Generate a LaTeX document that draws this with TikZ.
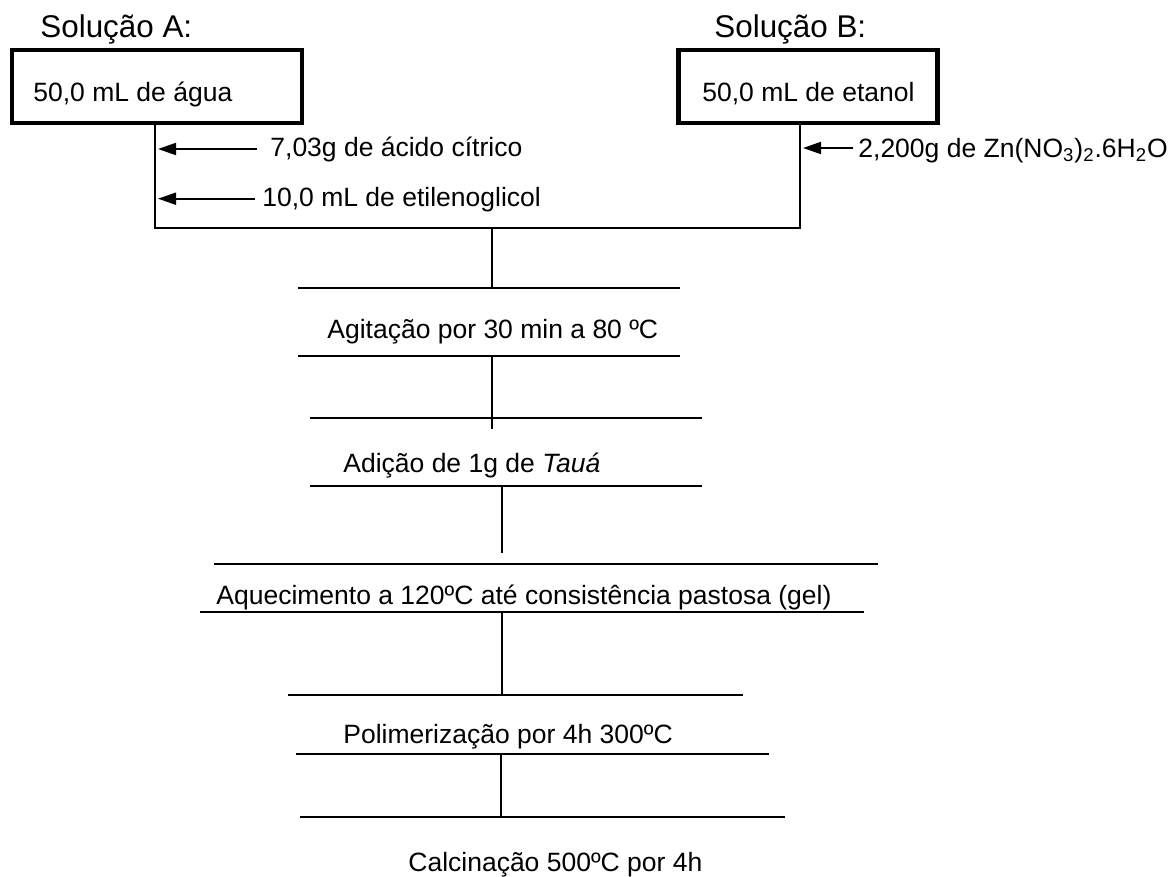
\documentclass[tikz,border=0pt]{standalone}
\usepackage{fontspec}
\setmainfont{Liberation Sans}
\usetikzlibrary{arrows.meta}
\begin{document}
\begin{tikzpicture}[x=0.5pt,y=-0.5pt,
  txt/.style={anchor=base west,inner sep=0pt,font=\fontsize{13.25}{15}\selectfont},
  head/.style={anchor=base west,inner sep=0pt,font=\fontsize{15.7}{18}\selectfont},
  flow/.style={line width=0.9pt},
  boxst/.style={draw,line width=2.1pt,inner sep=0pt},
  addarrow/.style={line width=0.9pt,-{Triangle[length=9pt,width=6pt]}}]
\useasboundingbox (0,0) rectangle (1173,877);
\fill[white] (0,0) rectangle (1173,877);

% headings
\node[head] (hA) at (40,38) {Solução A:};
\node[head] (hB) at (714,38) {Solução B:};

% boxes
\node[boxst,minimum width=145pt,minimum height=36.5pt] (boxA) at (157,86.5) {};
\node[boxst,minimum width=129.5pt,minimum height=36.5pt] (boxB) at (808,86.5) {};
\node[txt] (tA) at (33,101.7) {50,0 mL de água};
\node[txt] (tB) at (702,101.7) {50,0 mL de etanol};

% mixing lines
\coordinate (aL) at (155,228);
\coordinate (bR) at (800,228);
\draw[flow] (aL |- boxA.south) -- (aL) -- (bR) -- (bR |- boxB.south);

% additions
\node[txt] (ad1) at (270,157) {7,03g de ácido cítrico};
\node[txt] (ad2) at (262,206.7) {10,0 mL de etilenoglicol};
\node[txt] (ad3) at (858,157.5) {2,200g de Zn(NO\textsubscript{3})\textsubscript{2}.6H\textsubscript{2}O};
\coordinate (a1s) at (257,149);
\coordinate (a2s) at (255,198.7);
\coordinate (a3s) at (853,148);
\draw[addarrow] (a1s) -- ([xshift=1.5pt]a1s -| aL);
\draw[addarrow] (a2s) -- ([xshift=1.5pt]a2s -| aL);
\draw[addarrow] (a3s) -- ([xshift=1.5pt]a3s -| bR);

% step lines
\coordinate (l1a) at (298,288); \coordinate (l1b) at (680,288);
\coordinate (l2a) at (298,356); \coordinate (l2b) at (680,356);
\coordinate (l3a) at (310,418); \coordinate (l3b) at (702,418);
\coordinate (l4a) at (310,486); \coordinate (l4b) at (702,486);
\coordinate (l5a) at (214,564); \coordinate (l5b) at (878,564);
\coordinate (l6a) at (200,612); \coordinate (l6b) at (864,612);
\coordinate (l7a) at (288,695); \coordinate (l7b) at (743,695);
\coordinate (l8a) at (296,754); \coordinate (l8b) at (769,754);
\coordinate (l9a) at (300,817); \coordinate (l9b) at (785,817);
\foreach \i in {1,...,9} {\draw[flow] (l\i a) -- (l\i b);}

% vertical connectors
\coordinate (v0) at (492,228);
\coordinate (v1) at (492,356);
\coordinate (v1e) at (492,429);
\coordinate (v2) at (502,486);
\coordinate (v2e) at (502,553);
\coordinate (v3) at (502,612);
\coordinate (v4) at (501,754);
\draw[flow] (v0) -- (v0 |- l1a);
\draw[flow] (v1) -- (v1e);
\draw[flow] (v2) -- (v2e);
\draw[flow] (v3) -- (v3 |- l7a);
\draw[flow] (v4) -- (v4 |- l9a);

% step texts
\node[txt] (s1) at (327,339) {Agitação por 30 min a 80 ºC};
\node[txt] (s2) at (343,472) {Adição de 1g de \textit{Tauá}};
\node[txt] (s3) at (216,604) {Aquecimento a 120ºC até consistência pastosa (gel)};
\node[txt] (s4) at (343,743) {Polimerização por 4h 300ºC};
\node[txt] (s5) at (408,871) {Calcinação 500ºC por 4h};
\end{tikzpicture}
\end{document}
